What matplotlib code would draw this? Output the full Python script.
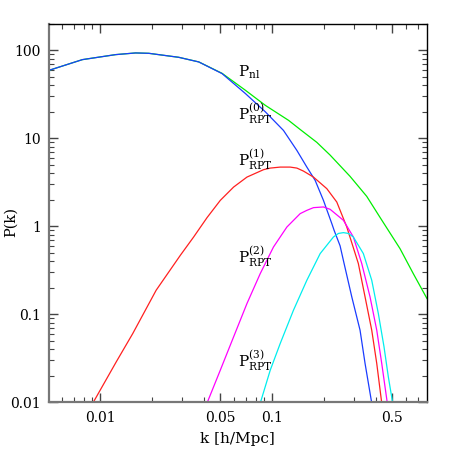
import matplotlib
matplotlib.use("Agg")
import matplotlib.pyplot as plt
from matplotlib.ticker import FixedLocator, FixedFormatter, NullFormatter

plt.rcParams['font.family'] = ['DejaVu Serif']
plt.rcParams['mathtext.fontset'] = 'dejavuserif'

# P_RPT^(0) (blue)
k_blue = [0.00504, 0.00787, 0.01229, 0.01605, 0.01918, 0.02863, 0.0374, 0.0511, 0.0698,
          0.0912, 0.1163, 0.1391, 0.1590, 0.1777, 0.1985, 0.2221, 0.2290, 0.2481,
          0.2618, 0.2902, 0.3241, 0.3466, 0.3790]
p_blue = [59.3, 78.4, 89.4, 93.4, 92.5, 83.3, 73.8, 54.4, 32.3,
          20.0, 12.29, 7.29, 4.711, 3.327, 1.973, 1.073, 0.901, 0.60,
          0.3773, 0.1576, 0.0660, 0.02763, 0.0098]

# P_nl (green)
k_green = [0.00504, 0.00787, 0.01229, 0.01605, 0.01918, 0.02863, 0.0374, 0.0511, 0.0698,
           0.0912, 0.1245, 0.1454, 0.1817, 0.2171, 0.2836, 0.3544, 0.4233, 0.5533,
           0.6607, 0.7938]
p_green = [59.3, 78.4, 89.4, 93.4, 92.5, 83.3, 73.9, 54.8, 35.2,
           23.7, 16.0, 12.6, 9.0, 6.447, 3.694, 2.191, 1.265, 0.558,
           0.2905, 0.1511]

# P_RPT^(1) (red)
k_red = [0.00906, 0.01239, 0.01546, 0.02114, 0.02924, 0.03492, 0.04178, 0.04991,
         0.05963, 0.07131, 0.0890, 0.0974, 0.1113, 0.1272, 0.1391, 0.1519, 0.1737,
         0.2077, 0.2374, 0.2714, 0.3168, 0.3466, 0.3790, 0.4053, 0.4333]
p_red = [0.0098, 0.0288, 0.0605, 0.1877, 0.469, 0.756, 1.255, 1.973,
         2.793, 3.627, 4.402, 4.59, 4.711, 4.711, 4.59, 4.244, 3.627,
         2.679, 1.887, 0.982, 0.3773, 0.1576, 0.0660, 0.02763, 0.0098]

# P_RPT^(2) (magenta)
k_mag = [0.04178, 0.04991, 0.05963, 0.07131, 0.0852, 0.1017, 0.1217, 0.1454, 0.1590,
         0.1737, 0.1985, 0.2171, 0.2269, 0.2594, 0.2964, 0.3316, 0.3705, 0.4053,
         0.4333, 0.4668]
p_mag = [0.0098, 0.0232, 0.0554, 0.1326, 0.2905, 0.582, 0.982, 1.394, 1.519,
         1.630, 1.66, 1.56, 1.453, 1.170, 0.756, 0.3773, 0.1576, 0.0660,
         0.02763, 0.0098]

# P_RPT^(3) (cyan)
k_cyan = [0.0852, 0.0974, 0.1113, 0.1329, 0.1590, 0.1900, 0.2269, 0.2426, 0.2594,
          0.2773, 0.2964, 0.3388, 0.3790, 0.4140, 0.4467, 0.4732, 0.5018]
p_cyan = [0.0098, 0.0232, 0.0466, 0.1113, 0.2438, 0.4898, 0.756, 0.83, 0.848,
          0.83, 0.756, 0.4898, 0.2438, 0.1021, 0.0427, 0.0195, 0.0098]

labels = [r'$\mathrm{P}_{\mathrm{nl}}$',
          r'$\mathrm{P}^{(0)}_{\mathrm{RPT}}$',
          r'$\mathrm{P}^{(1)}_{\mathrm{RPT}}$',
          r'$\mathrm{P}^{(2)}_{\mathrm{RPT}}$',
          r'$\mathrm{P}^{(3)}_{\mathrm{RPT}}$']
label_k = [0.063, 0.063, 0.063, 0.063, 0.063]
label_p = [57, 19.1, 5.74, 0.447, 0.0295]

xmajor = [0.01, 0.05, 0.1, 0.5]
xmajor_labels = ['0.01', '0.05', '0.1', '0.5']
xminor = [0.006, 0.007, 0.008, 0.009, 0.02, 0.03, 0.04, 0.06, 0.07, 0.08, 0.09,
          0.2, 0.3, 0.4, 0.6, 0.7]
ymajor = [0.01, 0.1, 1, 10, 100]
ymajor_labels = ['0.01', '0.1', '1', '10', '100']
yminor = [m * 10.0 ** e for e in range(-2, 3) for m in range(2, 10)]

fig = plt.figure(figsize=(4.5, 4.5), dpi=100)
ax = fig.add_axes([0.109, 0.106, 0.839, 0.841])

lw = 0.9
ax.plot(k_green, p_green, color='#00ee00', lw=lw)
ax.plot(k_blue, p_blue, color='#1a3cff', lw=lw)
ax.plot(k_red, p_red, color='#ff2020', lw=lw)
ax.plot(k_mag, p_mag, color='#ff00ff', lw=lw)
ax.plot(k_cyan, p_cyan, color='#00eeee', lw=lw)

ax.set_xscale('log')
ax.set_yscale('log')
ax.set_xlim(0.00504, 0.79)
ax.set_ylim(0.01, 200)

ax.xaxis.set_major_locator(FixedLocator(xmajor))
ax.xaxis.set_major_formatter(FixedFormatter(xmajor_labels))
ax.xaxis.set_minor_locator(FixedLocator(xminor))
ax.xaxis.set_minor_formatter(NullFormatter())
ax.yaxis.set_major_locator(FixedLocator(ymajor))
ax.yaxis.set_major_formatter(FixedFormatter(ymajor_labels))
ax.yaxis.set_minor_locator(FixedLocator(yminor))
ax.yaxis.set_minor_formatter(NullFormatter())

ax.tick_params(which='both', direction='in', top=True, right=True, color='#444444',
               labelsize=10)
ax.tick_params(which='major', length=6.5, width=1.0, pad=6)
ax.tick_params(which='minor', length=3.5, width=0.8)

for side in ['left', 'bottom']:
    ax.spines[side].set_color('#777777')
    ax.spines[side].set_linewidth(1.6)
for side in ['top', 'right']:
    ax.spines[side].set_color('black')
    ax.spines[side].set_linewidth(1.0)

for t, kx, py in zip(labels, label_k, label_p):
    ax.text(kx, py, t, fontsize=11, ha='left', va='center')

ax.set_xlabel('k [h/Mpc]', fontsize=11)
ax.set_ylabel('P(k)', fontsize=10.5)
ax.xaxis.set_label_coords(0.5, -0.078)
ax.yaxis.set_label_coords(-0.083, 0.477)

fig.savefig('out.png', dpi=100)
